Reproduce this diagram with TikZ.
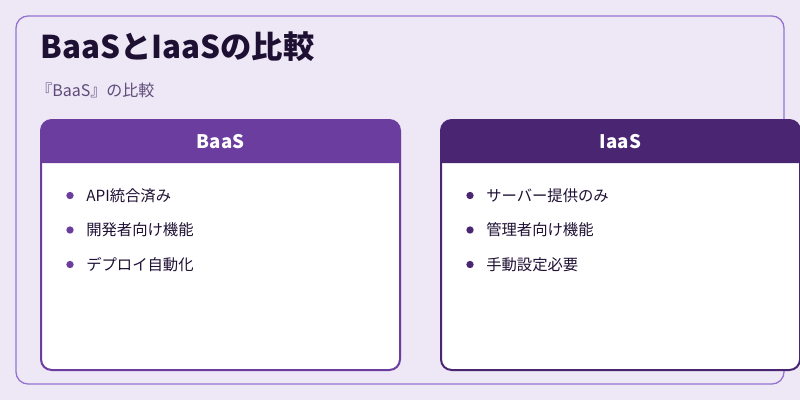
\documentclass[tikz,border=0pt]{standalone}
\usepackage{fontspec}
\setmainfont{Noto Sans CJK JP}
\usetikzlibrary{positioning}
\definecolor{bgpurple}{HTML}{EDE7F6}
\definecolor{framepurple}{HTML}{9575CD}
\definecolor{baaspurple}{HTML}{6A3D9E}
\definecolor{iaaspurple}{HTML}{4A2672}
\definecolor{titleink}{HTML}{1E1033}
\definecolor{subink}{HTML}{5E4B7A}
\tikzset{
x=0.75pt, y=-0.75pt,
card/.style={draw=#1, line width=1.5pt, fill=white, rounded corners=8pt},
cardhead/.style={text=white, font=\fontsize{14}{16}\selectfont\bfseries},
item/.style={anchor=west, font=\fontsize{11.5}{13}\selectfont, text=titleink, inner xsep=0pt},
dot/.style={circle, fill=#1, inner sep=0pt, minimum size=5.5pt},
}
\begin{document}
\begin{tikzpicture}
\useasboundingbox (0,0) rectangle (800,400);
\fill[bgpurple] (0,0) rectangle (800,400);
\draw[framepurple, line width=1pt, rounded corners=9pt] (16,16) rectangle (784,384);
\node[anchor=west, font=\fontsize{23.5}{26}\selectfont\bfseries, text=titleink, inner xsep=0pt] (title) at (40,47) {BaaSとIaaSの比較};
\node[anchor=west, font=\fontsize{12}{14}\selectfont, text=subink, inner xsep=0pt] (sub) at (36,90) {『BaaS』の比較};
% BaaS card
\draw[card=baaspurple] (41,120) rectangle (400,370);
\fill[baaspurple] (41,163) -- (41,128) [rounded corners=8pt] -- (41,120) -- (400,120) [sharp corners] -- (400,163) -- cycle;
\node[cardhead] (baas) at (220.5,142) {BaaS};
\foreach \t [count=\i] in {API統合済み, 開発者向け機能, デプロイ自動化} {
  \node[dot=baaspurple] (bd\i) at (70,161+34.5*\i) {};
  \node[item, right=12pt of bd\i.center] (bt\i) {\t};
}
% IaaS card
\draw[card=iaaspurple] (441,120) rectangle (800,370);
\fill[iaaspurple] (441,163) -- (441,128) [rounded corners=8pt] -- (441,120) -- (800,120) [sharp corners] -- (800,163) -- cycle;
\node[cardhead] (iaas) at (620.5,142) {IaaS};
\foreach \t [count=\i] in {サーバー提供のみ, 管理者向け機能, 手動設定必要} {
  \node[dot=iaaspurple] (id\i) at (470,161+34.5*\i) {};
  \node[item, right=12pt of id\i.center] (it\i) {\t};
}
\end{tikzpicture}
\end{document}
